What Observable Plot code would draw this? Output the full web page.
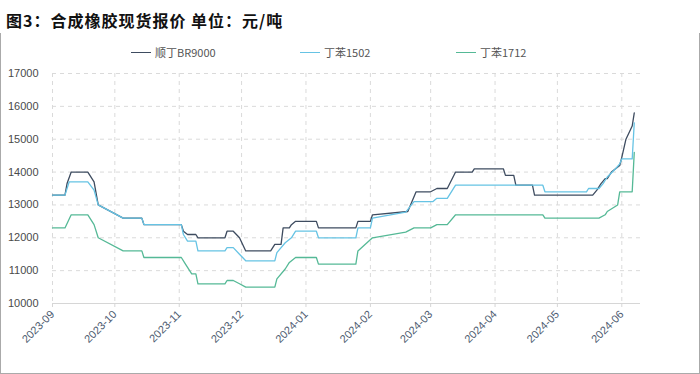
<!DOCTYPE html>
<html><head><meta charset="utf-8">
<script src="https://cdn.jsdelivr.net/npm/d3@7"></script>
<script src="https://cdn.jsdelivr.net/npm/@observablehq/plot@0.6"></script>
<style>
body{margin:0;background:#fff;width:700px;height:374px;overflow:hidden;position:relative;font-family:"Noto Sans CJK SC","Noto Sans",sans-serif;}
#title{position:absolute;left:6px;top:8px;font-size:16px;font-weight:bold;letter-spacing:1px;color:#111;line-height:24px;white-space:nowrap;}
#frame{position:absolute;left:0;top:33px;width:698px;height:340px;border-left:1px solid #aaa;border-right:1px solid #aaa;border-bottom:1px solid #aaa;}
#legend{position:absolute;top:44px;left:0;width:700px;height:16px;font-size:11px;color:#555;}
.item{position:absolute;top:0;display:flex;align-items:center;height:16px;white-space:nowrap;}
.sw{width:20px;height:0;border-top:1.5px solid;margin-right:4px;}
#chart{position:absolute;left:0;top:60px;}
</style></head>
<body>
<div id="frame"></div>
<div id="title">图3：合成橡胶现货报价 单位：元/吨</div>
<div id="legend"></div>
<div id="chart"></div>
<script>
const seriesNames = ["顺丁BR9000", "丁苯1502", "丁苯1712"];
const seriesColors = ["#3e4c60", "#66c3e4", "#55b996"];
const xTickLabels = ["2023-09","2023-10","2023-11","2023-12","2024-01","2024-02","2024-03","2024-04","2024-05","2024-06"];
const yTicks = [10000,11000,12000,13000,14000,15000,16000,17000];

const br9000Dates = ["2023-09-01","2023-09-07","2023-09-08","2023-09-10","2023-09-18","2023-09-21","2023-09-23","2023-10-05","2023-10-14","2023-10-15","2023-11-02","2023-11-03","2023-11-05","2023-11-09","2023-11-10","2023-11-23","2023-11-24","2023-11-27","2023-11-30","2023-12-03","2023-12-15","2023-12-17","2023-12-20","2023-12-21","2023-12-24","2023-12-25","2023-12-27","2024-01-06","2024-01-07","2024-01-25","2024-01-26","2024-02-01","2024-02-02","2024-02-19","2024-02-23","2024-03-01","2024-03-04","2024-03-09","2024-03-13","2024-03-21","2024-03-22","2024-04-05","2024-04-06","2024-04-10","2024-04-11","2024-04-19","2024-04-20","2024-05-18","2024-05-20","2024-05-22","2024-05-24","2024-05-25","2024-05-27","2024-05-31","2024-06-01","2024-06-03","2024-06-06","2024-06-07"];
const br9000Values = [13300,13300,13650,14000,14000,13700,13000,12600,12600,12400,12400,12200,12100,12100,12000,12000,12200,12200,12000,11600,11600,11800,11800,12300,12300,12400,12500,12500,12300,12300,12500,12500,12700,12800,13400,13400,13500,13500,14000,14000,14100,14100,13900,13900,13600,13600,13300,13300,13450,13650,13800,13800,14000,14200,14450,15000,15400,15800];

const sbr1502Dates = ["2023-09-01","2023-09-07","2023-09-09","2023-09-18","2023-09-21","2023-09-23","2023-10-05","2023-10-14","2023-10-15","2023-11-02","2023-11-03","2023-11-05","2023-11-09","2023-11-10","2023-11-23","2023-11-24","2023-11-27","2023-11-30","2023-12-03","2023-12-17","2023-12-18","2023-12-22","2023-12-25","2023-12-27","2024-01-06","2024-01-07","2024-01-25","2024-01-26","2024-02-01","2024-02-02","2024-02-18","2024-02-22","2024-03-02","2024-03-04","2024-03-09","2024-03-13","2024-04-24","2024-04-25","2024-05-15","2024-05-16","2024-05-21","2024-05-23","2024-05-25","2024-05-29","2024-05-31","2024-06-01","2024-06-06","2024-06-07"];
const sbr1502Values = [13300,13300,13700,13700,13450,13000,12600,12600,12400,12400,12100,11900,11900,11600,11600,11700,11700,11500,11300,11300,11550,11850,12000,12200,12200,12000,12000,12300,12300,12600,12780,13100,13100,13200,13200,13600,13600,13400,13400,13500,13500,13650,13850,14100,14250,14400,14400,15500];

const sbr1712Dates = ["2023-09-01","2023-09-07","2023-09-10","2023-09-18","2023-09-21","2023-09-23","2023-10-05","2023-10-14","2023-10-15","2023-11-02","2023-11-04","2023-11-07","2023-11-09","2023-11-10","2023-11-23","2023-11-24","2023-11-27","2023-11-30","2023-12-03","2023-12-17","2023-12-18","2023-12-22","2023-12-24","2023-12-27","2024-01-06","2024-01-07","2024-01-25","2024-01-26","2024-02-02","2024-02-18","2024-02-22","2024-03-01","2024-03-04","2024-03-09","2024-03-13","2024-04-24","2024-04-25","2024-05-21","2024-05-24","2024-05-25","2024-05-30","2024-05-31","2024-06-06","2024-06-07"];
const sbr1712Values = [12300,12300,12700,12700,12400,12000,11600,11600,11400,11400,11200,10900,10900,10600,10600,10700,10700,10600,10500,10500,10750,11050,11250,11400,11400,11200,11200,11600,12000,12170,12300,12300,12400,12400,12700,12700,12600,12600,12700,12800,13000,13400,13400,14600];

const parse = d3.utcParse("%Y-%m-%d");
const mk = (dates, values, name) => dates.map((d, i) => ({date: parse(d), value: values[i], name}));
const data = [
  ...mk(br9000Dates, br9000Values, seriesNames[0]),
  ...mk(sbr1502Dates, sbr1502Values, seriesNames[1]),
  ...mk(sbr1712Dates, sbr1712Values, seriesNames[2])
];
const xTicks = xTickLabels.map(s => d3.utcParse("%Y-%m")(s));

// legend
const legendX = [131, 300, 456];
const leg = document.getElementById("legend");
seriesNames.forEach((n, i) => {
  const it = document.createElement("div");
  it.className = "item";
  it.style.left = legendX[i] + "px";
  const sw = document.createElement("span");
  sw.className = "sw";
  sw.style.borderTopColor = seriesColors[i];
  const t = document.createElement("span");
  t.textContent = n;
  it.appendChild(sw); it.appendChild(t);
  leg.appendChild(it);
});

const chart = Plot.plot({
  width: 700,
  height: 314,
  marginTop: 13,
  marginLeft: 52,
  marginRight: 60,
  marginBottom: 71,
  style: {fontFamily: "'Liberation Sans', Arial, sans-serif", fontSize: "11px", background: "transparent"},
  x: {type: "utc", domain: [parse("2023-09-01"), parse("2024-06-10")]},
  y: {domain: [10000, 17000]},
  color: {domain: seriesNames, range: seriesColors},
  marks: [
    Plot.gridY(yTicks, {stroke: "#dadada", strokeOpacity: 1, strokeDasharray: "4,4"}),
    Plot.gridX(xTicks, {stroke: "#dadada", strokeOpacity: 1, strokeDasharray: "4,4"}),
    Plot.ruleY([10000], {stroke: "#d6d6d6"}),
    Plot.axisY(yTicks, {tickSize: 0, tickPadding: 14, tickFormat: "d", fill: "#4a4a4a", label: null}),
    Plot.axisX(xTicks, {text: null, tickSize: 4, stroke: "#d6d6d6", label: null}),
    Plot.axisX(xTicks, {tickSize: 0, tickPadding: 9, tickRotate: -45, tickFormat: d3.utcFormat("%Y-%m"), fill: "#4d5b70", label: null}),
    Plot.line(data, {x: "date", y: "value", z: "name", stroke: "name", strokeWidth: 1.3, sort: {channel: "z", order: "descending"}})
  ]
});
document.getElementById("chart").appendChild(chart);
</script>
</body></html>
